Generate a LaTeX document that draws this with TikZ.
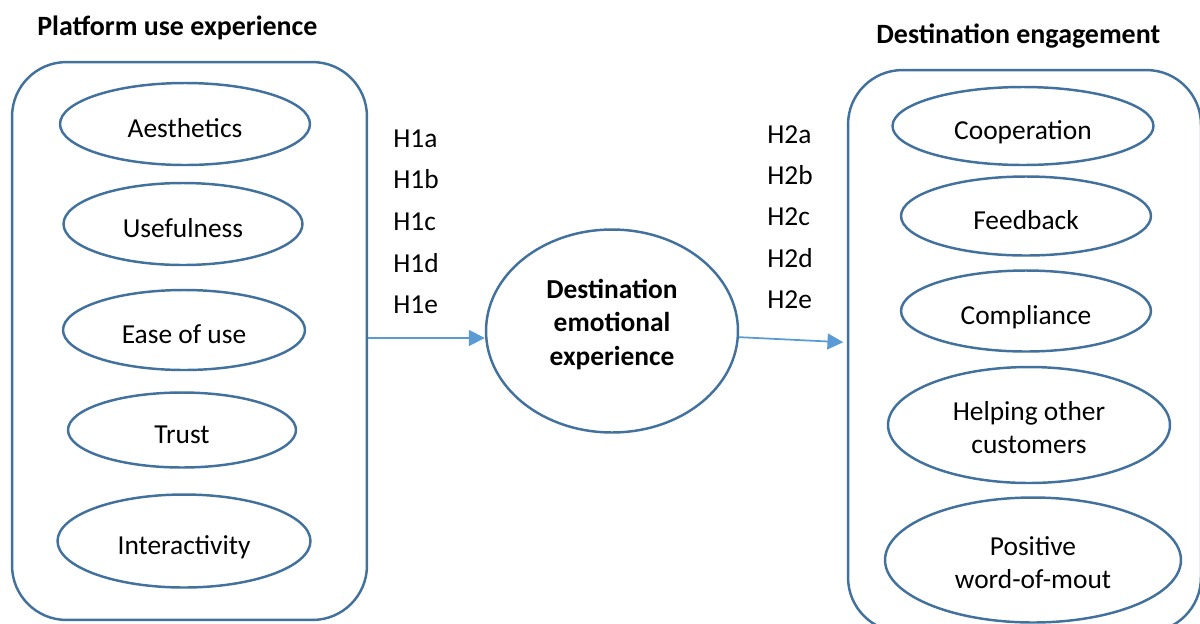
\documentclass[tikz,border=0pt]{standalone}
\usepackage{fontspec}
\setmainfont{Carlito}
\usetikzlibrary{shapes.geometric,arrows.meta}
\definecolor{lineblue}{HTML}{41719C}
\definecolor{arrowblue}{HTML}{5B9BD5}

\begin{document}
\begin{tikzpicture}[%
			x=0.02cm, y=-0.02cm,
			font=\fontsize{15.6}{19}\selectfont,
			>={Triangle[length=9pt,width=9pt]},
			group/.style={%
				draw=lineblue,
				line width=1.4pt,
				rounded corners=31pt,
				inner sep=0pt
			},
			factor/.style={%
				ellipse,
				draw=lineblue,
				line width=1.4pt,
				inner sep=0pt,
				align=center
			},
			oneline/.style={%
				factor,
				text height=15pt,
				text depth=0pt
			},
			heading/.style={%
				anchor=base west,
				inner sep=0pt,
				font=\fontsize{15.9}{19}\selectfont\bfseries
			},
			hyp/.style={%
				anchor=base west,
				inner sep=0pt
			},
			link/.style={%
				->,
				draw=arrowblue,
				line width=1pt
			}
			]
			\useasboundingbox (0,0) rectangle (1200,623);
			
			\node[group, minimum width=7.1cm, minimum height=11.16cm] (use) at (189.5,341) {};
			\node[group, minimum width=7.06cm, minimum height=11.24cm] (engage) at (1024.5,351) {};
			
			\node[heading] (usetitle) at (37,35) {Platform use experience};
			\node[heading] (engagetitle) at (876,43) {Destination engagement};
			
			\node[oneline, minimum width=5cm, minimum height=1.64cm] (aesth) at (185,124) {Aesthetics};
			\node[oneline, minimum width=4.78cm, minimum height=1.64cm] (useful) at (183,224) {Usefulness};
			\node[oneline, minimum width=4.84cm, minimum height=1.6cm] (ease) at (184,330) {Ease of use};
			\node[oneline, minimum width=4.56cm, minimum height=1.5cm] (trust) at (182,430) {Trust};
			\node[oneline, minimum width=5.06cm, minimum height=1.86cm] (inter) at (184,541) {Interactivity};
			
			\node[factor, minimum width=5.04cm, minimum height=4.06cm,
				font=\fontsize{15.6}{19}\selectfont\bfseries] (emotion) at (612,331)
				{Destination\\emotional\\experience\rule[-10pt]{0pt}{10pt}};
			
			\node[oneline, minimum width=5.22cm, minimum height=1.56cm] (coop) at (1023,126) {Cooperation};
			\node[oneline, minimum width=5cm, minimum height=1.58cm] (feed) at (1026,216) {Feedback};
			\node[oneline, minimum width=5cm, minimum height=1.62cm] (compl) at (1026,311) {Compliance};
			\node[factor, minimum width=5.64cm, minimum height=2.32cm] (help) at (1029,425)
				{\rule{0pt}{14pt}Helping other\\customers};
			\node[factor, minimum width=5.92cm, minimum height=2.5cm] (wom) at (1033,560)
				{\rule{0pt}{14pt}Positive\\word-of-mout};
			
			\node[hyp] (h1a) at (393,147) {H1a};
			\node[hyp] (h1b) at (393,188) {H1b};
			\node[hyp] (h1c) at (393,230) {H1c};
			\node[hyp] (h1d) at (393,272) {H1d};
			\node[hyp] (h1e) at (393,313) {H1e};
			
			\node[hyp] (h2a) at (767,143) {H2a};
			\node[hyp] (h2b) at (767,184) {H2b};
			\node[hyp] (h2c) at (767,225) {H2c};
			\node[hyp] (h2d) at (767,267) {H2d};
			\node[hyp] (h2e) at (767,308) {H2e};
			
			\draw[link] ([yshift=0.06cm]use.east) -- ([yshift=0.06cm]use.east -| emotion.west);
			\draw[link, shorten >=2pt] (emotion) -- (engage);
			\end{tikzpicture}
\end{document}
